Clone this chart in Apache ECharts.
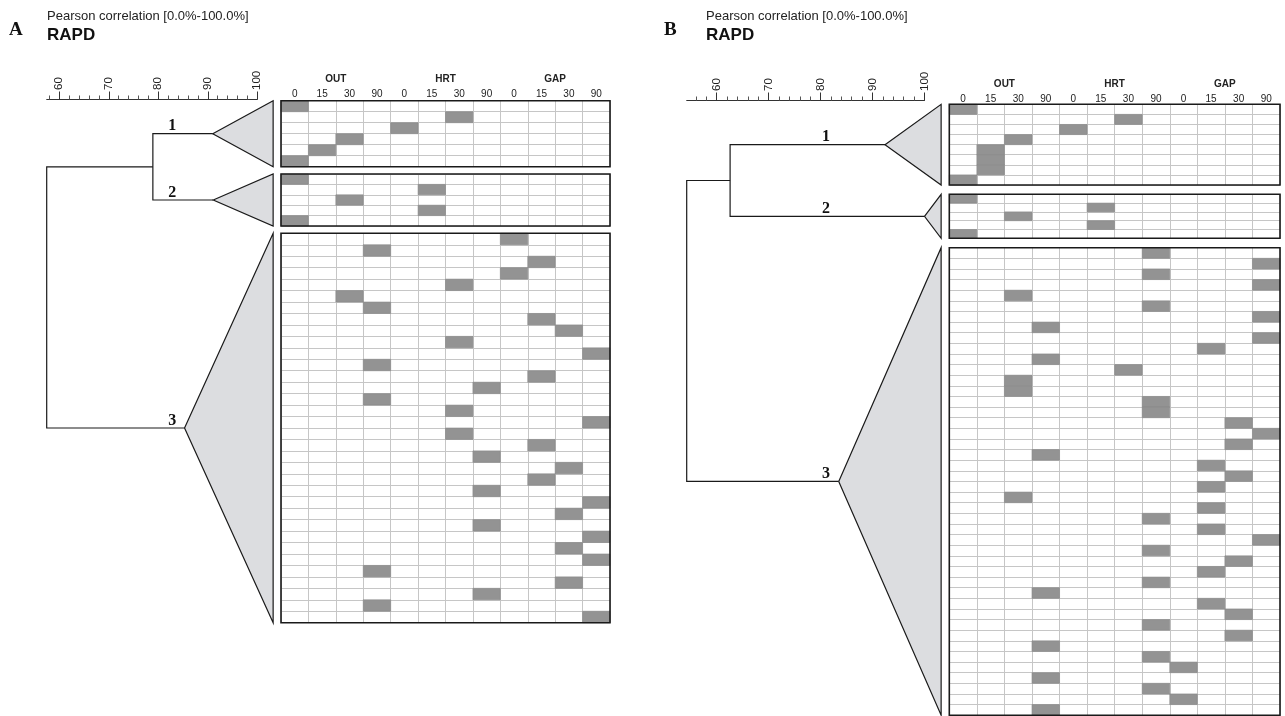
<!DOCTYPE html>
<html><head><meta charset="utf-8">
<script src="https://cdn.jsdelivr.net/npm/echarts@6/dist/echarts.min.js"></script>
<style>html,body{margin:0;padding:0;background:#fff}#c{width:1285px;height:716px}</style>
</head><body><div id="c"></div>
<script>
// ---------- data ----------
const colLabels = ['0','15','30','90','0','15','30','90','0','15','30','90'];
const factorLabels = ['OUT','HRT','GAP'];
const clusterNames = ['1','2','3'];
const majorTicks = [60,70,80,90,100];
const minorTicksA = [58,62,64,66,68,72,74,76,78,82,84,86,88,92,94,96,98];
const minorTicksB = [56,58,62,64,66,68,72,74,76,78,82,84,86,88,92,94,96,98];

// Panel A: column index of the filled cell for every row of each cluster
const aCluster1 = [0,6,4,2,1,0];
const aCluster2 = [0,5,2,5,0];
const aCluster3 = [8,3,9,8,6,2,3,9,10,6,11,3,9,7,3,6,11,6,9,7,10,9,7,11,10,7,11,10,11,3,10,7,3,11];
const aClusterSim = [91.0, 91.1, 85.3];
const aUpperSim = 78.9;
const aRootSim = 57.45;

// Panel B
const bCluster1 = [0,6,4,2,1,1,1,0];
const bCluster2 = [0,5,2,5,0];
const bCluster3 = [7,11,7,11,2,7,11,3,11,9,3,6,2,2,7,7,10,11,10,3,9,10,9,2,9,7,9,11,7,10,9,7,3,9,10,7,10,3,7,8,3,7,8,3];
const bClusterSim = [92.4, 100.0, 83.5];
const bUpperSim = 62.6;
const bRootSim = 54.25;

// ---------- layout ----------
const panels = [
  {key:'A', clusters:[aCluster1,aCluster2,aCluster3], sims:aClusterSim, upper:aUpperSim, root:aRootSim, minor:minorTicksA,
   letterX:9, textX:47, axisMin:57.45, axisLeft:46.7, axisRight:257.3, axisY:99.5, triBase:103.2, labelSim:82.8,
   heatLeft:281, heatRight:610, groups:[[100.7,166.7],[174,226],[233.3,622.7]], colMargin:1.5},
  {key:'B', clusters:[bCluster1,bCluster2,bCluster3], sims:bClusterSim, upper:bUpperSim, root:bRootSim, minor:minorTicksB,
   letterX:664, textX:706, axisMin:54.25, axisLeft:686.7, axisRight:924.5, axisY:100.5, triBase:103.2, labelSim:81.05,
   heatLeft:949.3, heatRight:1280, groups:[[104.3,185],[194.3,238.3],[247.7,715.2]], colMargin:0.5}
];

const SANS = '"Liberation Sans", Arial, sans-serif';
const SERIF = '"Liberation Serif", "DejaVu Serif", serif';
const GRIDLINE = '#c6c6c6';
const CELL = '#939393';

function cellRender(params, api) {
  const c = api.coord([api.value(0), api.value(1)]);
  const s = api.size([1, 1]);
  return {type:'rect', shape:{x:c[0]-s[0]/2, y:c[1]-s[1]/2, width:s[0], height:s[1]},
          style:{fill:CELL, stroke:'#888', lineWidth:0.6}};
}

function borderRender(params) {
  const cs = params.coordSys;
  return {type:'rect', shape:{x:cs.x, y:cs.y, width:cs.width, height:cs.height},
          style:{fill:null, stroke:'#1a1a1a', lineWidth:1.6}};
}

function makeDendroRender(p) {
  return function(params, api) {
    const c = (x, y) => api.coord([x, y]);
    const ys = p.groups.map(g => (g[0] + g[1]) / 2 - p.axisY);
    const yU = (ys[0] + ys[1]) / 2;
    const ls = {stroke:'#1a1a1a', lineWidth:1.2, fill:null};
    const children = [];
    children.push({type:'polyline', shape:{points:[c(p.sims[0],ys[0]), c(p.upper,ys[0]), c(p.upper,ys[1]), c(p.sims[1],ys[1])]}, style:ls});
    children.push({type:'polyline', shape:{points:[c(p.upper,yU), c(p.root,yU), c(p.root,ys[2]), c(p.sims[2],ys[2])]}, style:ls});
    p.groups.forEach((g, k) => {
      children.push({type:'polygon', shape:{points:[c(p.sims[k],ys[k]), c(p.triBase,g[0]-p.axisY), c(p.triBase,g[1]-p.axisY)]},
                     style:{fill:'#dcdde0', stroke:'#1a1a1a', lineWidth:1.2}});
      const t = c(p.labelSim, ys[k]);
      children.push({type:'text', x:t[0], y:t[1]+0.5,
                     style:{text:clusterNames[k], fill:'#111', fontSize:16, fontWeight:'bold', fontFamily:SERIF, align:'center', verticalAlign:'bottom'}});
    });
    return {type:'group', children};
  };
}

const option = {animation:false, backgroundColor:'#fff', title:[], grid:[], xAxis:[], yAxis:[], series:[]};

panels.forEach(p => {
  option.title.push({text:p.key, left:p.letterX, top:21, padding:0,
    textStyle:{fontFamily:SERIF, fontWeight:'bold', fontSize:19, color:'#111'}});
  option.title.push({text:'Pearson correlation [0.0%-100.0%]', left:p.textX, top:9.5, padding:0,
    textStyle:{fontFamily:SANS, fontWeight:'normal', fontSize:13, color:'#222'}});
  option.title.push({text:'RAPD', left:p.textX, top:26.5, padding:0,
    textStyle:{fontFamily:SANS, fontWeight:'bold', fontSize:17, color:'#111'}});

  // dendrogram grid
  const H = p.groups[2][1] - p.axisY;
  const dg = option.grid.length;
  option.grid.push({left:p.axisLeft, top:p.axisY, width:p.axisRight - p.axisLeft, height:H});
  const dx = option.xAxis.length;
  option.xAxis.push({gridIndex:dg, type:'value', min:p.axisMin, max:100, position:'top',
    axisLine:{show:true, lineStyle:{color:'#333', width:1}},
    axisTick:{show:true, customValues:majorTicks, length:8, lineStyle:{color:'#333', width:1}},
    axisLabel:{show:true, customValues:majorTicks, rotate:90, margin:9.5, fontSize:11.5, color:'#222', fontFamily:SANS},
    splitLine:{show:false}});
  option.xAxis.push({gridIndex:dg, type:'value', min:p.axisMin, max:100, position:'top',
    axisLine:{show:false},
    axisTick:{show:true, customValues:p.minor, length:4, lineStyle:{color:'#555', width:1}},
    axisLabel:{show:false}, splitLine:{show:false}});
  const dy = option.yAxis.length;
  option.yAxis.push({gridIndex:dg, type:'value', min:0, max:H, inverse:true, show:false});
  option.series.push({type:'custom', xAxisIndex:dx, yAxisIndex:dy, clip:false, data:[[p.root, 0]],
    renderItem:makeDendroRender(p), z:2});

  // heatmap grids
  p.groups.forEach((g, k) => {
    const rows = p.clusters[k];
    const gi = option.grid.length;
    option.grid.push({left:p.heatLeft, top:g[0], width:p.heatRight - p.heatLeft, height:g[1] - g[0],
      show:true, borderWidth:0, backgroundColor:'#fff'});
    const xi = option.xAxis.length;
    option.xAxis.push({gridIndex:gi, type:'category', data:colLabels, position:'top',
      axisLine:{show:false}, axisTick:{show:false},
      axisLabel:{show:k === 0, interval:0, margin:p.colMargin, fontSize:10, color:'#222', fontFamily:SANS},
      splitLine:{show:true, interval:0, lineStyle:{color:GRIDLINE, width:1}}});
    if (k === 0) {
      option.xAxis.push({gridIndex:gi, type:'category', data:factorLabels, position:'top', offset:15,
        axisLine:{show:false}, axisTick:{show:false},
        axisLabel:{interval:0, margin:p.colMargin, fontSize:10, fontWeight:'bold', color:'#222', fontFamily:SANS},
        splitLine:{show:false}});
    }
    const yi = option.yAxis.length;
    option.yAxis.push({gridIndex:gi, type:'category', data:rows.map((_, i) => String(i + 1)), inverse:true,
      axisLine:{show:false}, axisTick:{show:false}, axisLabel:{show:false},
      splitLine:{show:true, interval:0, lineStyle:{color:GRIDLINE, width:1}}});
    option.series.push({type:'custom', xAxisIndex:xi, yAxisIndex:yi, data:rows.map((c, r) => [c, r]),
      renderItem:cellRender, z:3});
    option.series.push({type:'custom', xAxisIndex:xi, yAxisIndex:yi, data:[[0, 0]], silent:true,
      renderItem:borderRender, z:4});
  });
});

const chart = echarts.init(document.getElementById('c'), null, {renderer:'canvas'});
chart.setOption(option);
</script></body></html>
